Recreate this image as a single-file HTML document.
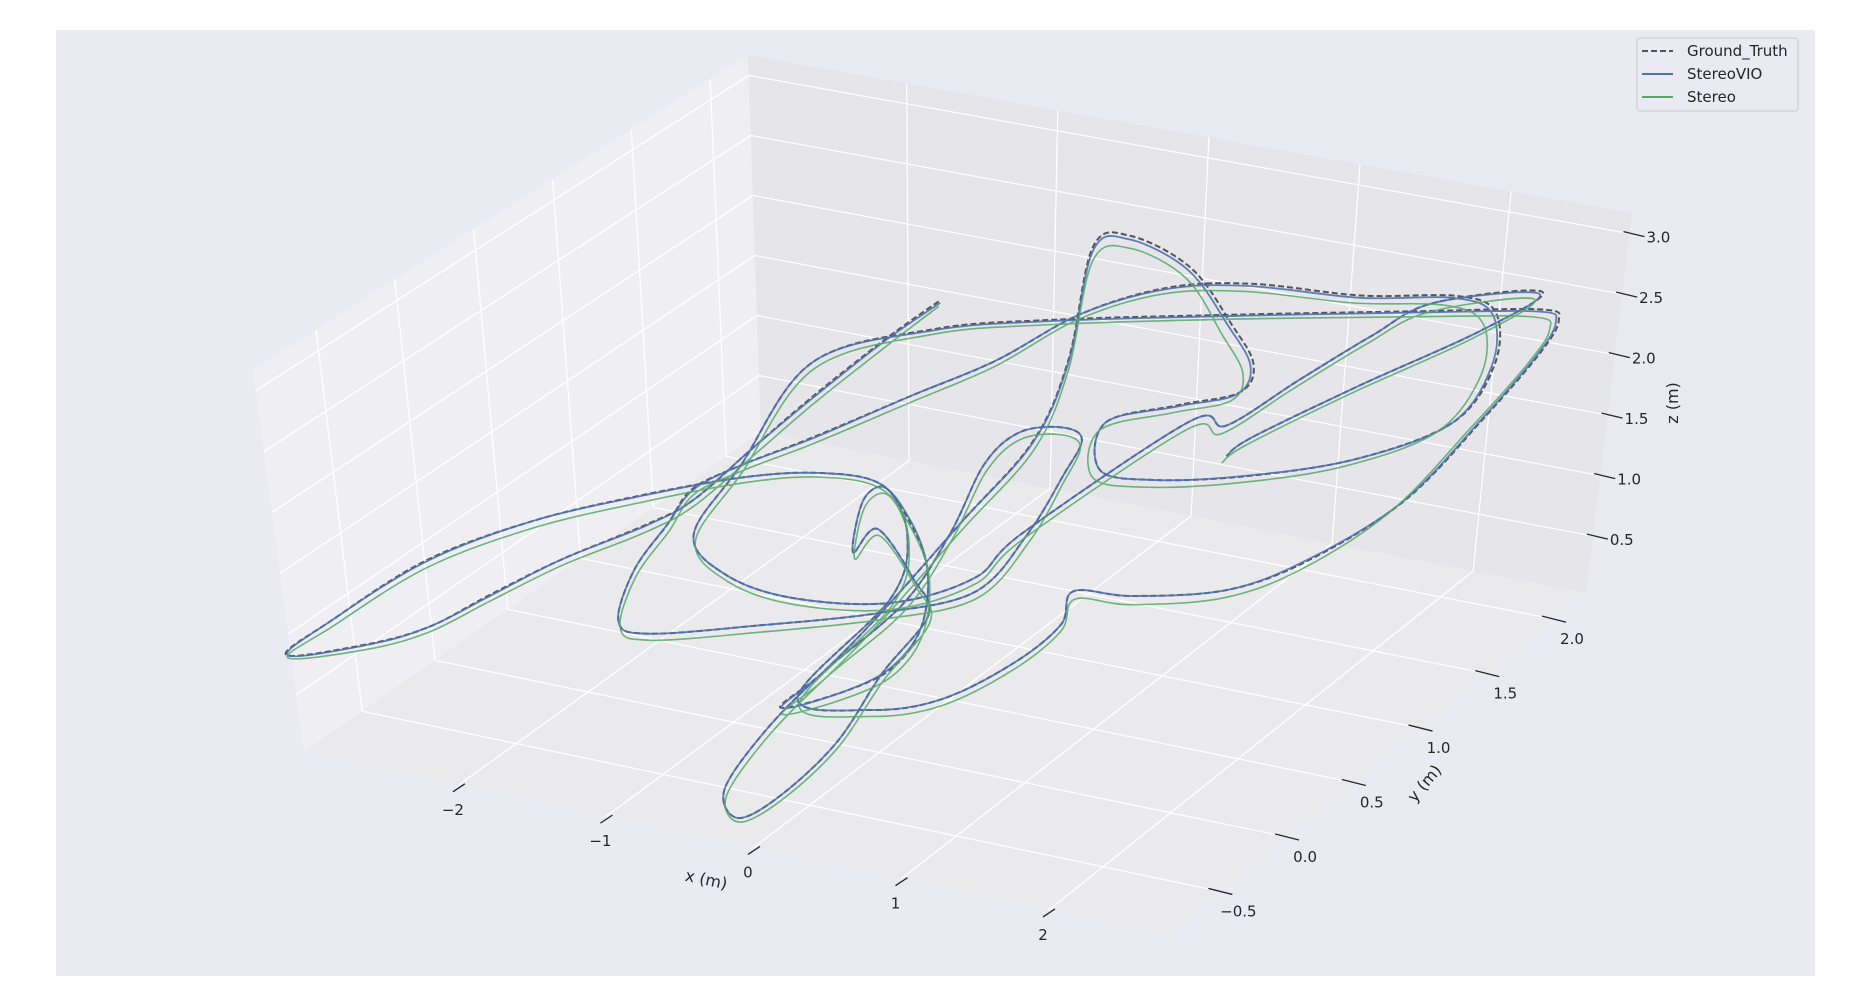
<!DOCTYPE html>
<html><head><meta charset="utf-8"><style>
html,body{margin:0;padding:0;background:#fff;}
svg{display:block;font-family:"DejaVu Sans","Liberation Sans",sans-serif;}
</style></head><body>
<svg id="chart" width="1861" height="999" viewBox="0 0 1861 999" xmlns="http://www.w3.org/2000/svg">
<rect x="0" y="0" width="1861" height="999" fill="#ffffff"/>
<rect x="56" y="30" width="1759" height="946" fill="#eaeaf2"/>
<g id="panes"></g>
<g id="grid"></g>
<g id="ticks"></g>
<g id="series"></g>
<text x="706" y="885" font-size="16" fill="#262626" text-anchor="middle" transform="rotate(12 706 881)">x (m)</text>
<text x="1424" y="789" font-size="16" fill="#262626" text-anchor="middle" transform="rotate(-50 1424 783)">y (m)</text>
<text x="1672" y="409" font-size="16" fill="#262626" text-anchor="middle" transform="rotate(-90 1672 403)">z (m)</text>
<g>
<rect x="1637" y="38" width="161" height="73" rx="3" fill="#eaeaf2" stroke="#cccccc" stroke-width="1"/>
<g>
<line x1="1642" y1="51" x2="1673" y2="51" stroke="#555" stroke-width="2" stroke-dasharray="6 3"/>
<text x="1687" y="56" font-size="15" fill="#262626">Ground_Truth</text></g>
<g>
<line x1="1642" y1="74" x2="1673" y2="74" stroke="#4c72b0" stroke-width="2"/>
<text x="1687" y="79" font-size="15" fill="#262626">StereoVIO</text></g>
<g>
<line x1="1642" y1="97" x2="1673" y2="97" stroke="#55a868" stroke-width="2"/>
<text x="1687" y="102" font-size="15" fill="#262626">Stereo</text></g>
</g>
</svg>
<script>
const xTicks=[-2,-1,0,1,2];
const yTicks=[-0.5,0.0,0.5,1.0,1.5,2.0];
const zTicks=[0.5,1.0,1.5,2.0,2.5,3.0];
const xTickLabels=["\u22122","\u22121","0","1","2"];
const yTickLabels=["\u22120.5","0.0","0.5","1.0","1.5","2.0"];
const zTickLabels=["0.5","1.0","1.5","2.0","2.5","3.0"];
const gtX=[-1.01,-1.14,-1.30,-1.42,-1.53,-1.69,-2.00,-2.24,-2.43,-2.68,-3.07,-2.96,-2.69,-2.28,-1.81,-1.37,-1.00,-0.64,-0.35,-0.05,
0.14,0.14,-0.03,-0.31,-0.22,-0.13,-0.04,0.03,-0.10,-0.42,-0.27,0.18,0.62,0.89,0.93,0.65,0.34,0.49,0.82,1.31,
1.82,2.19,2.18,1.98,1.71,1.19,0.56,0.13,-0.22,-0.48,-0.79,-1.14,-1.41,-1.58,-1.57,-1.58,-1.47,-1.27,-0.73,-0.14,
0.29,0.35,0.32,0.28,0.13,-0.08,-0.14,-0.06,-0.04,-0.22,-0.31,-0.31,-0.14,0.00,0.11,0.10,0.13,-0.07,-0.46,-0.50,
-0.64,-0.56,-0.28,-0.13,-0.26,0.18,0.51,0.76,0.87,0.81,1.14,1.63,1.96,2.24,2.34,2.38,2.35,2.21,1.57,0.62,
-0.33,-0.93,-1.43,-1.41,-1.40,-1.08,-0.64,-0.11,0.24,0.32,0.78,0.99,1.20,1.41,1.60,2.14,1.97,1.54,1.17,1.11];
const gtY=[1.47,1.24,0.91,0.62,0.32,0.15,-0.11,-0.36,-0.58,-0.74,-0.91,-0.70,-0.32,0.00,0.27,0.48,0.61,0.67,0.58,0.41,
0.17,-0.03,-0.19,-0.36,-0.16,0.15,0.64,1.06,1.43,1.91,2.01,1.97,1.81,1.69,1.56,1.42,1.24,1.05,1.09,1.25,
1.48,1.76,2.04,2.24,2.25,2.11,2.00,1.86,1.63,1.32,1.06,0.75,0.53,0.37,0.19,-0.04,-0.27,-0.27,-0.07,0.16,
0.39,0.70,0.97,1.14,1.16,1.08,0.90,0.58,0.23,-0.16,-0.48,-0.77,-0.86,-0.71,-0.41,-0.07,0.23,0.34,0.49,0.36,
0.58,0.66,0.51,0.24,-0.29,-0.23,-0.08,0.17,0.39,0.54,0.61,0.78,1.02,1.39,1.82,2.15,2.30,2.32,2.14,1.86,
1.57,1.35,1.04,0.53,0.19,0.08,0.09,0.22,0.44,0.69,1.37,1.41,1.69,1.97,2.19,2.39,2.15,1.76,1.40,1.29];
const gtZ=[2.24,2.09,1.86,1.65,1.45,1.35,1.21,1.07,0.95,0.88,0.83,0.97,1.21,1.37,1.47,1.54,1.56,1.52,1.38,1.17,
0.95,0.79,0.69,0.63,0.76,0.99,1.36,1.68,2.00,2.45,2.49,2.36,2.13,1.97,1.86,1.81,1.75,1.56,1.52,1.53,
1.59,1.73,1.95,2.16,2.23,2.24,2.29,2.28,2.18,2.00,1.86,1.70,1.59,1.49,1.36,1.17,0.97,0.92,0.95,1.00,
1.08,1.31,1.54,1.68,1.73,1.71,1.59,1.31,1.04,0.76,0.53,0.31,0.20,0.28,0.49,0.76,0.99,1.13,1.33,1.24,
1.45,1.49,1.31,1.06,0.67,0.62,0.66,0.80,0.95,1.08,1.06,1.08,1.20,1.43,1.75,2.00,2.13,2.17,2.17,2.17,
2.16,2.13,2.00,1.59,1.31,1.15,1.06,1.04,1.14,1.31,1.75,1.73,1.91,2.08,2.20,2.24,2.09,1.88,1.68,1.61];
const vioX=[-1.00,-1.14,-1.29,-1.42,-1.53,-1.68,-2.00,-2.23,-2.43,-2.67,-3.06,-2.96,-2.68,-2.28,-1.80,-1.37,-1.00,-0.64,-0.34,-0.05,
0.14,0.13,-0.03,-0.30,-0.22,-0.13,-0.04,0.03,-0.09,-0.41,-0.27,0.17,0.61,0.88,0.92,0.65,0.34,0.49,0.82,1.30,
1.81,2.18,2.17,1.97,1.70,1.19,0.56,0.13,-0.22,-0.48,-0.79,-1.13,-1.41,-1.57,-1.57,-1.58,-1.47,-1.27,-0.73,-0.14,
0.29,0.35,0.32,0.28,0.13,-0.08,-0.14,-0.06,-0.04,-0.22,-0.31,-0.31,-0.14,0.00,0.11,0.10,0.13,-0.07,-0.46,-0.50,
-0.64,-0.56,-0.28,-0.13,-0.26,0.18,0.51,0.76,0.87,0.81,1.14,1.63,1.95,2.23,2.33,2.37,2.34,2.20,1.57,0.62,
-0.33,-0.93,-1.43,-1.41,-1.40,-1.08,-0.64,-0.11,0.24,0.32,0.78,0.99,1.20,1.41,1.60,2.13,1.97,1.54,1.17,1.11];
const vioY=[1.47,1.24,0.91,0.62,0.32,0.15,-0.11,-0.36,-0.58,-0.74,-0.91,-0.70,-0.32,0.00,0.27,0.48,0.61,0.67,0.58,0.41,
0.17,-0.03,-0.19,-0.36,-0.16,0.15,0.64,1.06,1.42,1.90,2.00,1.96,1.80,1.68,1.55,1.42,1.24,1.05,1.09,1.25,
1.47,1.75,2.03,2.23,2.24,2.10,1.99,1.86,1.63,1.32,1.06,0.75,0.53,0.37,0.19,-0.04,-0.27,-0.27,-0.07,0.16,
0.39,0.70,0.97,1.14,1.16,1.08,0.90,0.58,0.23,-0.16,-0.48,-0.77,-0.86,-0.71,-0.41,-0.07,0.23,0.34,0.49,0.36,
0.58,0.66,0.51,0.24,-0.29,-0.23,-0.08,0.17,0.39,0.54,0.61,0.78,1.02,1.38,1.81,2.14,2.29,2.31,2.14,1.86,
1.57,1.35,1.04,0.53,0.19,0.08,0.09,0.22,0.44,0.69,1.37,1.41,1.69,1.97,2.19,2.38,2.15,1.76,1.40,1.29];
const vioZ=[2.23,2.08,1.86,1.65,1.45,1.35,1.21,1.07,0.95,0.88,0.83,0.97,1.21,1.37,1.47,1.54,1.56,1.52,1.38,1.17,
0.95,0.79,0.69,0.63,0.76,0.99,1.36,1.67,1.99,2.43,2.47,2.35,2.12,1.96,1.85,1.80,1.75,1.56,1.52,1.53,
1.59,1.72,1.94,2.15,2.22,2.23,2.28,2.27,2.18,2.00,1.86,1.70,1.59,1.49,1.36,1.17,0.97,0.92,0.95,1.00,
1.08,1.31,1.54,1.68,1.73,1.71,1.59,1.31,1.04,0.76,0.53,0.31,0.20,0.28,0.49,0.76,0.99,1.13,1.33,1.24,
1.45,1.49,1.31,1.06,0.67,0.62,0.66,0.80,0.95,1.08,1.06,1.08,1.20,1.42,1.74,1.99,2.12,2.16,2.16,2.16,
2.15,2.12,2.00,1.59,1.31,1.15,1.06,1.04,1.14,1.31,1.75,1.73,1.91,2.08,2.20,2.23,2.09,1.88,1.68,1.61];
const stX=[-0.99,-1.11,-1.27,-1.39,-1.50,-1.66,-1.97,-2.21,-2.41,-2.66,-3.05,-2.94,-2.66,-2.25,-1.78,-1.34,-0.97,-0.61,-0.32,-0.02,
0.17,0.17,0.00,-0.28,-0.19,-0.10,-0.01,0.06,-0.07,-0.38,-0.23,0.19,0.60,0.86,0.91,0.64,0.33,0.47,0.79,1.27,
1.77,2.13,2.14,1.95,1.68,1.17,0.55,0.12,-0.22,-0.47,-0.77,-1.12,-1.38,-1.55,-1.54,-1.55,-1.44,-1.24,-0.70,-0.11,
0.32,0.38,0.34,0.29,0.14,-0.06,-0.11,-0.03,-0.01,-0.19,-0.28,-0.28,-0.12,0.02,0.13,0.13,0.16,-0.04,-0.43,-0.47,
-0.61,-0.53,-0.25,-0.10,-0.23,0.20,0.53,0.78,0.89,0.84,1.16,1.63,1.94,2.20,2.30,2.35,2.33,2.19,1.56,0.62,
-0.32,-0.91,-1.40,-1.38,-1.37,-1.05,-0.61,-0.08,0.26,0.34,0.79,0.99,1.19,1.40,1.60,2.12,1.95,1.52,1.16,1.10];
const stY=[1.45,1.22,0.89,0.60,0.30,0.13,-0.13,-0.38,-0.60,-0.76,-0.92,-0.72,-0.34,-0.02,0.25,0.46,0.59,0.65,0.56,0.39,
0.15,-0.05,-0.21,-0.38,-0.18,0.13,0.62,1.04,1.40,1.87,1.97,1.93,1.77,1.65,1.52,1.39,1.21,1.02,1.06,1.22,
1.44,1.71,1.99,2.19,2.21,2.08,1.97,1.83,1.61,1.30,1.04,0.73,0.51,0.35,0.17,-0.06,-0.29,-0.29,-0.09,0.14,
0.37,0.68,0.95,1.12,1.14,1.06,0.88,0.56,0.21,-0.18,-0.50,-0.79,-0.87,-0.72,-0.43,-0.09,0.21,0.32,0.47,0.34,
0.56,0.64,0.49,0.22,-0.31,-0.25,-0.10,0.15,0.37,0.52,0.58,0.75,0.98,1.34,1.77,2.10,2.26,2.29,2.12,1.84,
1.55,1.33,1.02,0.51,0.17,0.06,0.07,0.20,0.42,0.67,1.34,1.38,1.66,1.94,2.16,2.36,2.12,1.73,1.37,1.27];
const stZ=[2.22,2.06,1.83,1.62,1.43,1.32,1.19,1.05,0.93,0.86,0.82,0.94,1.18,1.34,1.44,1.52,1.55,1.50,1.35,1.14,
0.92,0.76,0.66,0.60,0.73,0.96,1.33,1.64,1.95,2.38,2.43,2.31,2.07,1.92,1.82,1.77,1.71,1.52,1.48,1.49,
1.55,1.68,1.90,2.10,2.18,2.20,2.25,2.25,2.15,1.97,1.83,1.67,1.57,1.47,1.33,1.14,0.94,0.89,0.92,0.97,
1.05,1.27,1.50,1.64,1.69,1.67,1.55,1.28,1.01,0.73,0.50,0.28,0.18,0.26,0.46,0.73,0.96,1.10,1.30,1.21,
1.42,1.46,1.28,1.03,0.64,0.59,0.63,0.77,0.92,1.04,1.02,1.04,1.15,1.38,1.70,1.95,2.08,2.13,2.14,2.15,
2.14,2.11,1.97,1.56,1.28,1.12,1.03,1.01,1.11,1.28,1.71,1.69,1.86,2.03,2.15,2.20,2.05,1.84,1.64,1.57];

const NS='http://www.w3.org/2000/svg';
const X0=-3.05,X1=2.8,Y0=-0.9,Y1=2.24,Z0=0.03,Z1=3.17;
// screen corners of the axis box: C[x][y][z]
const C={'000':[304,752],'100':[1167,935],'110':[1586,593],'010':[761,432],
'001':[253,370],'101':[1175,547],'111':[1632,213],'011':[748,55]};
function L(a,b,t){return [a[0]+(b[0]-a[0])*t,a[1]+(b[1]-a[1])*t];}
function proj(x,y,z){
const u=(x-X0)/(X1-X0),v=(y-Y0)/(Y1-Y0),w=(z-Z0)/(Z1-Z0);
const b0=L(L(C['000'],C['100'],u),L(C['010'],C['110'],u),v);
const b1=L(L(C['001'],C['101'],u),L(C['011'],C['111'],u),v);
return L(b0,b1,w);}
function mk(tag,attrs,parent){const e=document.createElementNS(NS,tag);for(const k in attrs)e.setAttribute(k,attrs[k]);parent.appendChild(e);return e;}
const panes=document.getElementById('panes');
function poly(pts,fill,name){const e=mk('polygon',{points:pts.map(p=>p.join(',')).join(' '),fill:fill},panes);

}
poly([C['000'],C['010'],C['011'],C['001']],'#efeff3','left-pane');
poly([C['010'],C['110'],C['111'],C['011']],'#e5e5ea','back-pane');
poly([C['000'],C['100'],C['110'],C['010']],'#eaeaec','floor-pane');
const grid=document.getElementById('grid');
function gl(a,b,name){const e=mk('line',{x1:a[0],y1:a[1],x2:b[0],y2:b[1],stroke:'#ffffff','stroke-width':1.3},grid);

}
xTicks.forEach(t=>{gl(proj(t,Y0,Z0),proj(t,Y1,Z0),'floor-grid-x');gl(proj(t,Y1,Z0),proj(t,Y1,Z1),'back-grid-x');});
yTicks.forEach(t=>{gl(proj(X0,t,Z0),proj(X1,t,Z0),'floor-grid-y');gl(proj(X0,t,Z0),proj(X0,t,Z1),'left-grid-y');});
zTicks.forEach(t=>{gl(proj(X0,Y0,t),proj(X0,Y1,t),'left-grid-z');gl(proj(X0,Y1,t),proj(X1,Y1,t),'back-grid-z');});
const ticks=document.getElementById('ticks');
function tick(p,d1,d2,lab,lp,anchor,name){
const l=mk('line',{x1:p[0]+d1[0],y1:p[1]+d1[1],x2:p[0]+d2[0],y2:p[1]+d2[1],stroke:'#262626','stroke-width':1.3},ticks);


const t=mk('text',{x:p[0]+lp[0],y:p[1]+lp[1],'font-size':15,fill:'#262626','text-anchor':anchor},ticks);
t.textContent=lab;

}
xTicks.forEach((t,i)=>tick(proj(t,Y0,Z0),[-6,7],[6,-1],xTickLabels[i],[-6,30],'middle','x-tick'));
yTicks.forEach((t,i)=>tick(proj(X1,t,Z0),[-12,-3],[12,3],yTickLabels[i],[18,25],'middle','y-tick'));
zTicks.forEach((t,i)=>tick(proj(X1,Y1,t),[-6,-2],[15,3],zTickLabels[i],[17,9],'start','z-tick'));
function pathD(X,Y,Z){
const p=X.map((x,i)=>proj(x,Y[i],Z[i]));
let d='M'+p[0][0].toFixed(1)+','+p[0][1].toFixed(1);
for(let i=0;i<p.length-1;i++){
const p0=p[i-1]||p[i],p1=p[i],p2=p[i+1],p3=p[i+2]||p[i+1];
const c1=[p1[0]+(p2[0]-p0[0])/6,p1[1]+(p2[1]-p0[1])/6],c2=[p2[0]-(p3[0]-p1[0])/6,p2[1]-(p3[1]-p1[1])/6];
d+=' C'+c1.map(v=>v.toFixed(1)).join(',')+' '+c2.map(v=>v.toFixed(1)).join(',')+' '+p2.map(v=>v.toFixed(1)).join(',');}
return d;}
const series=document.getElementById('series');
const g1=mk('path',{d:pathD(gtX,gtY,gtZ),fill:'none',stroke:'#555555','stroke-width':2,'stroke-dasharray':'6 3','stroke-linejoin':'round'},series);


const g2=mk('path',{d:pathD(vioX,vioY,vioZ),fill:'none',stroke:'#4c72b0','stroke-width':1.8,'stroke-linejoin':'round','stroke-opacity':0.9},series);


const g3=mk('path',{d:pathD(stX,stY,stZ),fill:'none',stroke:'#55a868','stroke-width':1.6,'stroke-linejoin':'round','stroke-opacity':0.85},series);


</script>
</body></html>
